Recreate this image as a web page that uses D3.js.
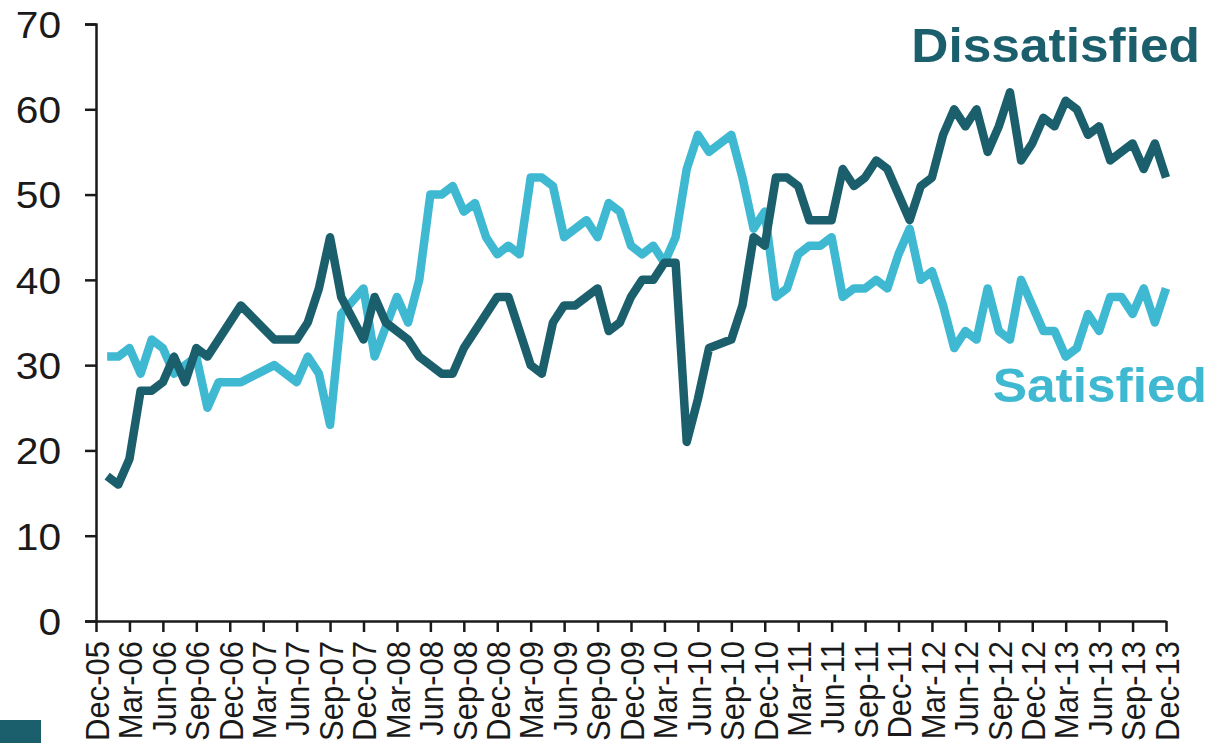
<!DOCTYPE html>
<html>
<head>
<meta charset="utf-8">
<script src="https://cdn.jsdelivr.net/npm/d3@7"></script>
<style>
  body { margin: 0; background: #fff; }
  svg { display: block; font-family: "Liberation Sans", Arial, sans-serif; }
</style>
</head>
<body>
<svg id="chart" width="1218" height="743"></svg>
<script>
// months counted from Dec-05 (0) to Dec-13 (96)
var dissMonths = [1,2,3,4,5,6,7,8,9,10,13,16,18,19,20,21,22,24,25,26,28,29,31,32,33,36,37,39,40,41,42,43,45,46,47,48,49,50,51,52,53,54,55,57,58,59,60,61,62,63,64,66,67,68,69,70,71,73,74,75,76,77,78,79,80,81,82,83,84,85,86,87,88,89,90,91,92,93,94,95,96];
var dissValues = [17,16,19,27,27,28,31,28,32,31,37,33,33,35,39,45,38,33,38,35,33,31,29,29,32,38,38,30,29,35,37,37,39,34,35,38,40,40,42,42,21,26,32,33,37,45,44,52,52,51,47,47,53,51,52,54,53,47,51,52,57,60,58,60,55,58,62,54,56,59,58,61,60,57,58,54,55,56,53,56,52];

var satMonths = [1,2,3,4,5,6,7,8,9,10,11,13,16,18,19,20,21,22,24,25,27,28,29,30,31,32,33,34,35,36,37,38,39,40,41,42,44,45,46,47,48,49,50,51,52,53,54,55,57,58,59,60,61,62,63,64,65,66,67,68,69,70,71,72,73,74,75,76,77,78,79,80,81,82,83,84,85,86,87,88,89,90,91,92,93,94,95,96];
var satValues = [31,31,32,29,33,32,29,30,31,25,28,28,30,28,31,29,23,36,39,31,38,35,40,50,50,51,48,49,45,43,44,43,52,52,51,45,47,45,49,48,44,43,44,42,45,53,57,55,57,52,46,48,38,39,43,44,44,45,38,39,39,40,39,43,46,40,41,37,32,34,33,39,34,33,40,37,34,34,31,32,36,34,38,38,36,39,35,39];

var tickLabels = ["Dec-05","Mar-06","Jun-06","Sep-06","Dec-06","Mar-07","Jun-07","Sep-07","Dec-07","Mar-08","Jun-08","Sep-08","Dec-08","Mar-09","Jun-09","Sep-09","Dec-09","Mar-10","Jun-10","Sep-10","Dec-10","Mar-11","Jun-11","Sep-11","Dec-11","Mar-12","Jun-12","Sep-12","Dec-12","Mar-13","Jun-13","Sep-13","Dec-13"];
var yTicks = [0,10,20,30,40,50,60,70];

var darkColor = "#1c5f6c", lightColor = "#3fb8d1";
var stretch = 1.1; // text in the original is a bit wider than Liberation Sans

var svg = d3.select("#chart");
var x = d3.scaleLinear().domain([0, 96]).range([96, 1166]);
var y = d3.scaleLinear().domain([0, 70]).range([621, 24]);

// y axis
var yAxis = svg.append("g")
	.attr("transform", "translate(96,0)")
	.call(d3.axisLeft(y).tickValues(yTicks).tickSize(11).tickFormat(d3.format("d")));
yAxis.select(".domain").attr("stroke", "#1a1a1a").attr("stroke-width", 2.5);
yAxis.selectAll(".tick line").attr("stroke", "#1a1a1a").attr("stroke-width", 2.5);
yAxis.selectAll(".tick text")
	.attr("font-size", 37).attr("fill", "#1a1a1a")
	.attr("font-family", "Liberation Sans, Arial, sans-serif")
	.attr("x", -35 / stretch).attr("dy", "0.36em")
	.attr("transform", "scale(" + stretch + ",1)");

// x axis
var xAxis = svg.append("g")
	.attr("transform", "translate(0,621)")
	.call(d3.axisBottom(x).tickValues(d3.range(0, 97, 3)).tickSize(11).tickSizeOuter(0)
		.tickFormat(function(d, i){ return tickLabels[i]; }));
xAxis.select(".domain").attr("stroke", "#1a1a1a").attr("stroke-width", 2.5);
xAxis.selectAll(".tick line").attr("stroke", "#1a1a1a").attr("stroke-width", 2.5);
xAxis.selectAll(".tick text")
	.attr("font-size", 31).attr("fill", "#1a1a1a")
	.attr("font-family", "Liberation Sans, Arial, sans-serif")
	.attr("text-anchor", "end")
	.attr("transform", "scale(" + stretch + ",1) rotate(-90)")
	.attr("x", -20).attr("y", 0).attr("dy", "0.36em");

var line = d3.line()
	.x(function(d){ return x(d[0]); })
	.y(function(d){ return y(d[1]); });

var satData = satMonths.map(function(m, i){ return [m, satValues[i]]; });
var dissData = dissMonths.map(function(m, i){ return [m, dissValues[i]]; });

svg.append("path").datum(satData)
	.attr("d", line)
	.attr("fill", "none")
	.attr("stroke", lightColor)
	.attr("stroke-width", 8.5)
	.attr("stroke-linejoin", "round");
svg.append("path").datum(dissData)
	.attr("d", line)
	.attr("fill", "none")
	.attr("stroke", darkColor)
	.attr("stroke-width", 8.5)
	.attr("stroke-linejoin", "round");

svg.append("text")
	.attr("transform", "translate(1200,62) scale(1.05,1)")
	.attr("text-anchor", "end")
	.attr("font-size", 49).attr("font-weight", "bold")
	.attr("fill", darkColor)
	.text("Dissatisfied");
svg.append("text")
	.attr("transform", "translate(1207,402) scale(1.05,1)")
	.attr("text-anchor", "end")
	.attr("font-size", 49).attr("font-weight", "bold")
	.attr("fill", lightColor)
	.text("Satisfied");

svg.append("rect").attr("x", 0).attr("y", 720).attr("width", 41).attr("height", 23).attr("fill", darkColor);
</script>
</body>
</html>
